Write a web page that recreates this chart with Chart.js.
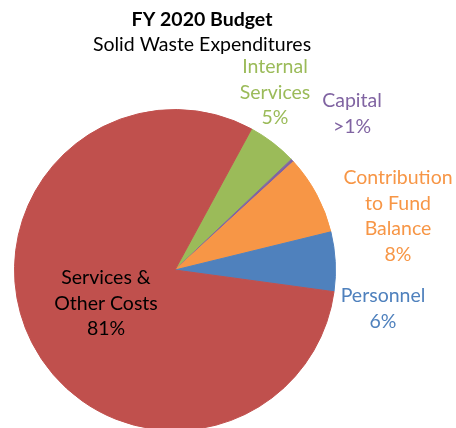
<!DOCTYPE html>
<html>
<head>
<meta charset="utf-8">
<script src="https://cdn.jsdelivr.net/npm/chart.js@4/dist/chart.umd.min.js"></script>
<style>
  html, body { margin: 0; padding: 0; background: #fff; overflow: hidden; }
  #wrap { width: 456px; height: 428px; overflow: hidden; }
</style>
</head>
<body>
<div id="wrap"><canvas id="budgetChart" width="456" height="450"></canvas></div>
<script>
// FY 2020 solid waste spending split
var categories = ["Internal Services", "Capital", "Contribution to Fund Balance", "Personnel", "Services & Other Costs"];
var shares = [5, 0.3, 8, 6, 81];
var shareLabels = ["5%", ">1%", "8%", "6%", "81%"];
var sliceColors = ["#9BBB59", "#8064A2", "#F79646", "#4F81BD", "#C0504D"];

// label text per slice (category split over lines, share goes last)
var labelLines = [
  ["Internal", "Services"],
  ["Capital"],
  ["Contribution", "to Fund", "Balance"],
  ["Personnel"],
  ["Services &", "Other Costs"]
];
var labelColors = ["#9BBB59", "#8064A2", "#F79646", "#4F81BD", "#000000"];
// centre of the first line of each label block
var labelPlace = [
  { x: 275, y: 67 },
  { x: 352, y: 101 },
  { x: 398, y: 178 },
  { x: 383, y: 296 },
  { x: 106, y: 278 }
];

var FONT = "Lato, 'Open Sans', sans-serif";
var FONT_SIZE = 19.5;

const labelPlugin = {
  id: "sliceLabels",
  afterDraw: (chart) => {
    const ctx = chart.ctx;
    ctx.save();
    ctx.textAlign = "center";
    ctx.textBaseline = "middle";

    // title
    ctx.fillStyle = "#000";
    ctx.font = "bold " + FONT_SIZE + "px " + FONT;
    ctx.fillText("FY 2020 Budget", 202, 20);
    ctx.font = FONT_SIZE + "px " + FONT;
    ctx.fillText("Solid Waste Expenditures", 202, 45);

    labelLines.forEach((lines, i) => {
      const all = lines.concat([shareLabels[i]]);
      ctx.fillStyle = labelColors[i];
      all.forEach((t, j) => {
        ctx.fillText(t, labelPlace[i].x, labelPlace[i].y + j * 25.5);
      });
    });
    ctx.restore();
  },
};

const ctx = document.getElementById("budgetChart");
const budgetChart = new Chart(ctx, {
  type: "pie",
  data: {
    labels: categories,
    datasets: [
      {
        data: shares,
        backgroundColor: sliceColors,
        borderColor: sliceColors,
        borderWidth: 1,
      },
    ],
  },
  options: {
    responsive: false,
    animation: false,
    rotation: 28.5,
    layout: {
      padding: { left: 14, right: 120, top: 109, bottom: 19 },
    },
    plugins: {
      legend: { display: false },
      tooltip: { enabled: false },
    },
  },
  plugins: [labelPlugin],
});
</script>
</body>
</html>
